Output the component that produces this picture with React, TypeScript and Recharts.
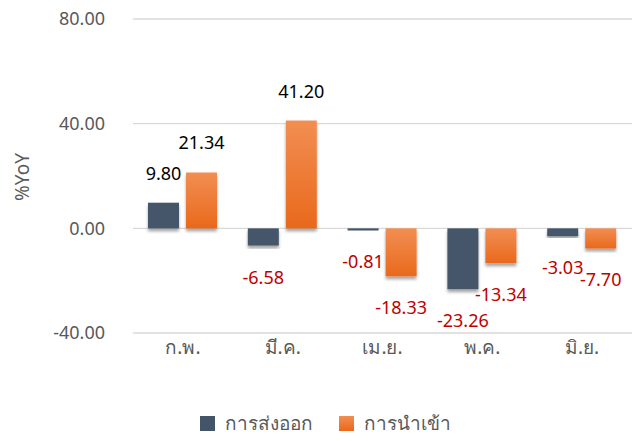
import { BarChart, Bar, XAxis, YAxis, CartesianGrid, Label, LabelList } from 'recharts';

const months = ['ก.พ.', 'มี.ค.', 'เม.ย.', 'พ.ค.', 'มิ.ย.'];
const exportYoY = [9.8, -6.58, -0.81, -23.26, -3.03];
const importYoY = [21.34, 41.2, -18.33, -13.34, -7.7];
const yTicks = [-40, 0, 40, 80];

const EXPORT_NAME = 'การส่งออก';
const IMPORT_NAME = 'การนำเข้า';
const BLUE = '#44546A';
const FONT = '"Noto Sans", "DejaVu Sans", sans-serif';
const TICK_COLOR = '#595959';

const data = months.map((m, i) => ({ month: m, exp: exportYoY[i], imp: importYoY[i] }));

// bar with soft shadow like the excel original
const ShadowBar = (props: any) => {
  const { x, y, width, height, fill } = props;
  const top = Math.min(y, y + height);
  const h = Math.abs(height);
  return <rect x={x} y={top} width={width} height={h} fill={fill} filter="url(#barShadow)" />;
};

const ValueLabel = (props: any) => {
  const { x, y, width, height, value } = props;
  const top = Math.min(y, y + height);
  const bottom = Math.max(y, y + height);
  const neg = value < 0;
  const cy = neg ? bottom + 31 : top - 30;
  return (
    <text
      x={x + width / 2}
      y={cy}
      textAnchor="middle"
      dominantBaseline="central"
      fill={neg ? '#C00000' : '#000000'}
      style={{ fontSize: 18, fontFamily: FONT }}
    >
      {value.toFixed(2)}
    </text>
  );
};

export default function App() {
  return (
    <div style={{ position: 'relative', width: 640, height: 441, margin: -8, background: '#fff', overflow: 'hidden' }}>
      <BarChart
        width={640}
        height={441}
        data={data}
        margin={{ top: 19, right: 8, left: 0, bottom: 78 }}
        barSize={31}
        barGap={7}
      >
        <defs>
          <linearGradient id="orangeGrad" x1="0" y1="0" x2="0" y2="1">
            <stop offset="0%" stopColor="#F28E52" />
            <stop offset="100%" stopColor="#E9691C" />
          </linearGradient>
          <filter id="barShadow" x="-20%" y="-20%" width="140%" height="140%">
            <feDropShadow dx="0" dy="3" stdDeviation="1.8" floodColor="#000" floodOpacity="0.35" />
          </filter>
        </defs>
        <CartesianGrid vertical={false} stroke="#D9D9D9" strokeWidth={1.3} />
        <XAxis
          dataKey="month"
          axisLine={false}
          tickLine={false}
          tickSize={0}
          tickMargin={8}
          height={30}
          tick={{ fill: TICK_COLOR, fontSize: 19, fontFamily: FONT }}
        />
        <YAxis
          width={133}
          domain={[-40, 80]}
          ticks={yTicks}
          axisLine={false}
          tickLine={false}
          tickSize={0}
          tickMargin={28}
          tickFormatter={(v: number) => v.toFixed(2)}
          tick={{ fill: TICK_COLOR, fontSize: 18, fontFamily: FONT }}
        >
          <Label
            content={() => (
              <text
                x={22}
                y={177}
                transform="rotate(-90, 22, 177)"
                textAnchor="middle"
                dominantBaseline="central"
                fill={TICK_COLOR}
                style={{ fontSize: 19, fontFamily: FONT }}
              >
                %YoY
              </text>
            )}
          />
        </YAxis>
        <Bar dataKey="exp" name={EXPORT_NAME} fill={BLUE} shape={ShadowBar} isAnimationActive={false}>
          <LabelList dataKey="exp" content={ValueLabel} />
        </Bar>
        <Bar dataKey="imp" name={IMPORT_NAME} fill="url(#orangeGrad)" shape={ShadowBar} isAnimationActive={false}>
          <LabelList dataKey="imp" content={ValueLabel} />
        </Bar>
      </BarChart>

      {/* Legend */}
      <div
        style={{
          position: 'absolute',
          left: 200,
          top: 413,
          height: 20,
          lineHeight: '20px',
          display: 'flex',
          alignItems: 'center',
          fontFamily: FONT,
          fontSize: 19,
          color: TICK_COLOR,
          whiteSpace: 'nowrap',
        }}
      >
        <div style={{ width: 15, height: 15, background: BLUE, marginRight: 10 }} />
        <span>{EXPORT_NAME}</span>
        <div
          style={{
            width: 15,
            height: 15,
            background: 'linear-gradient(#F28E52, #E9691C)',
            marginLeft: 26,
            marginRight: 10,
          }}
        />
        <span>{IMPORT_NAME}</span>
      </div>
    </div>
  );
}
